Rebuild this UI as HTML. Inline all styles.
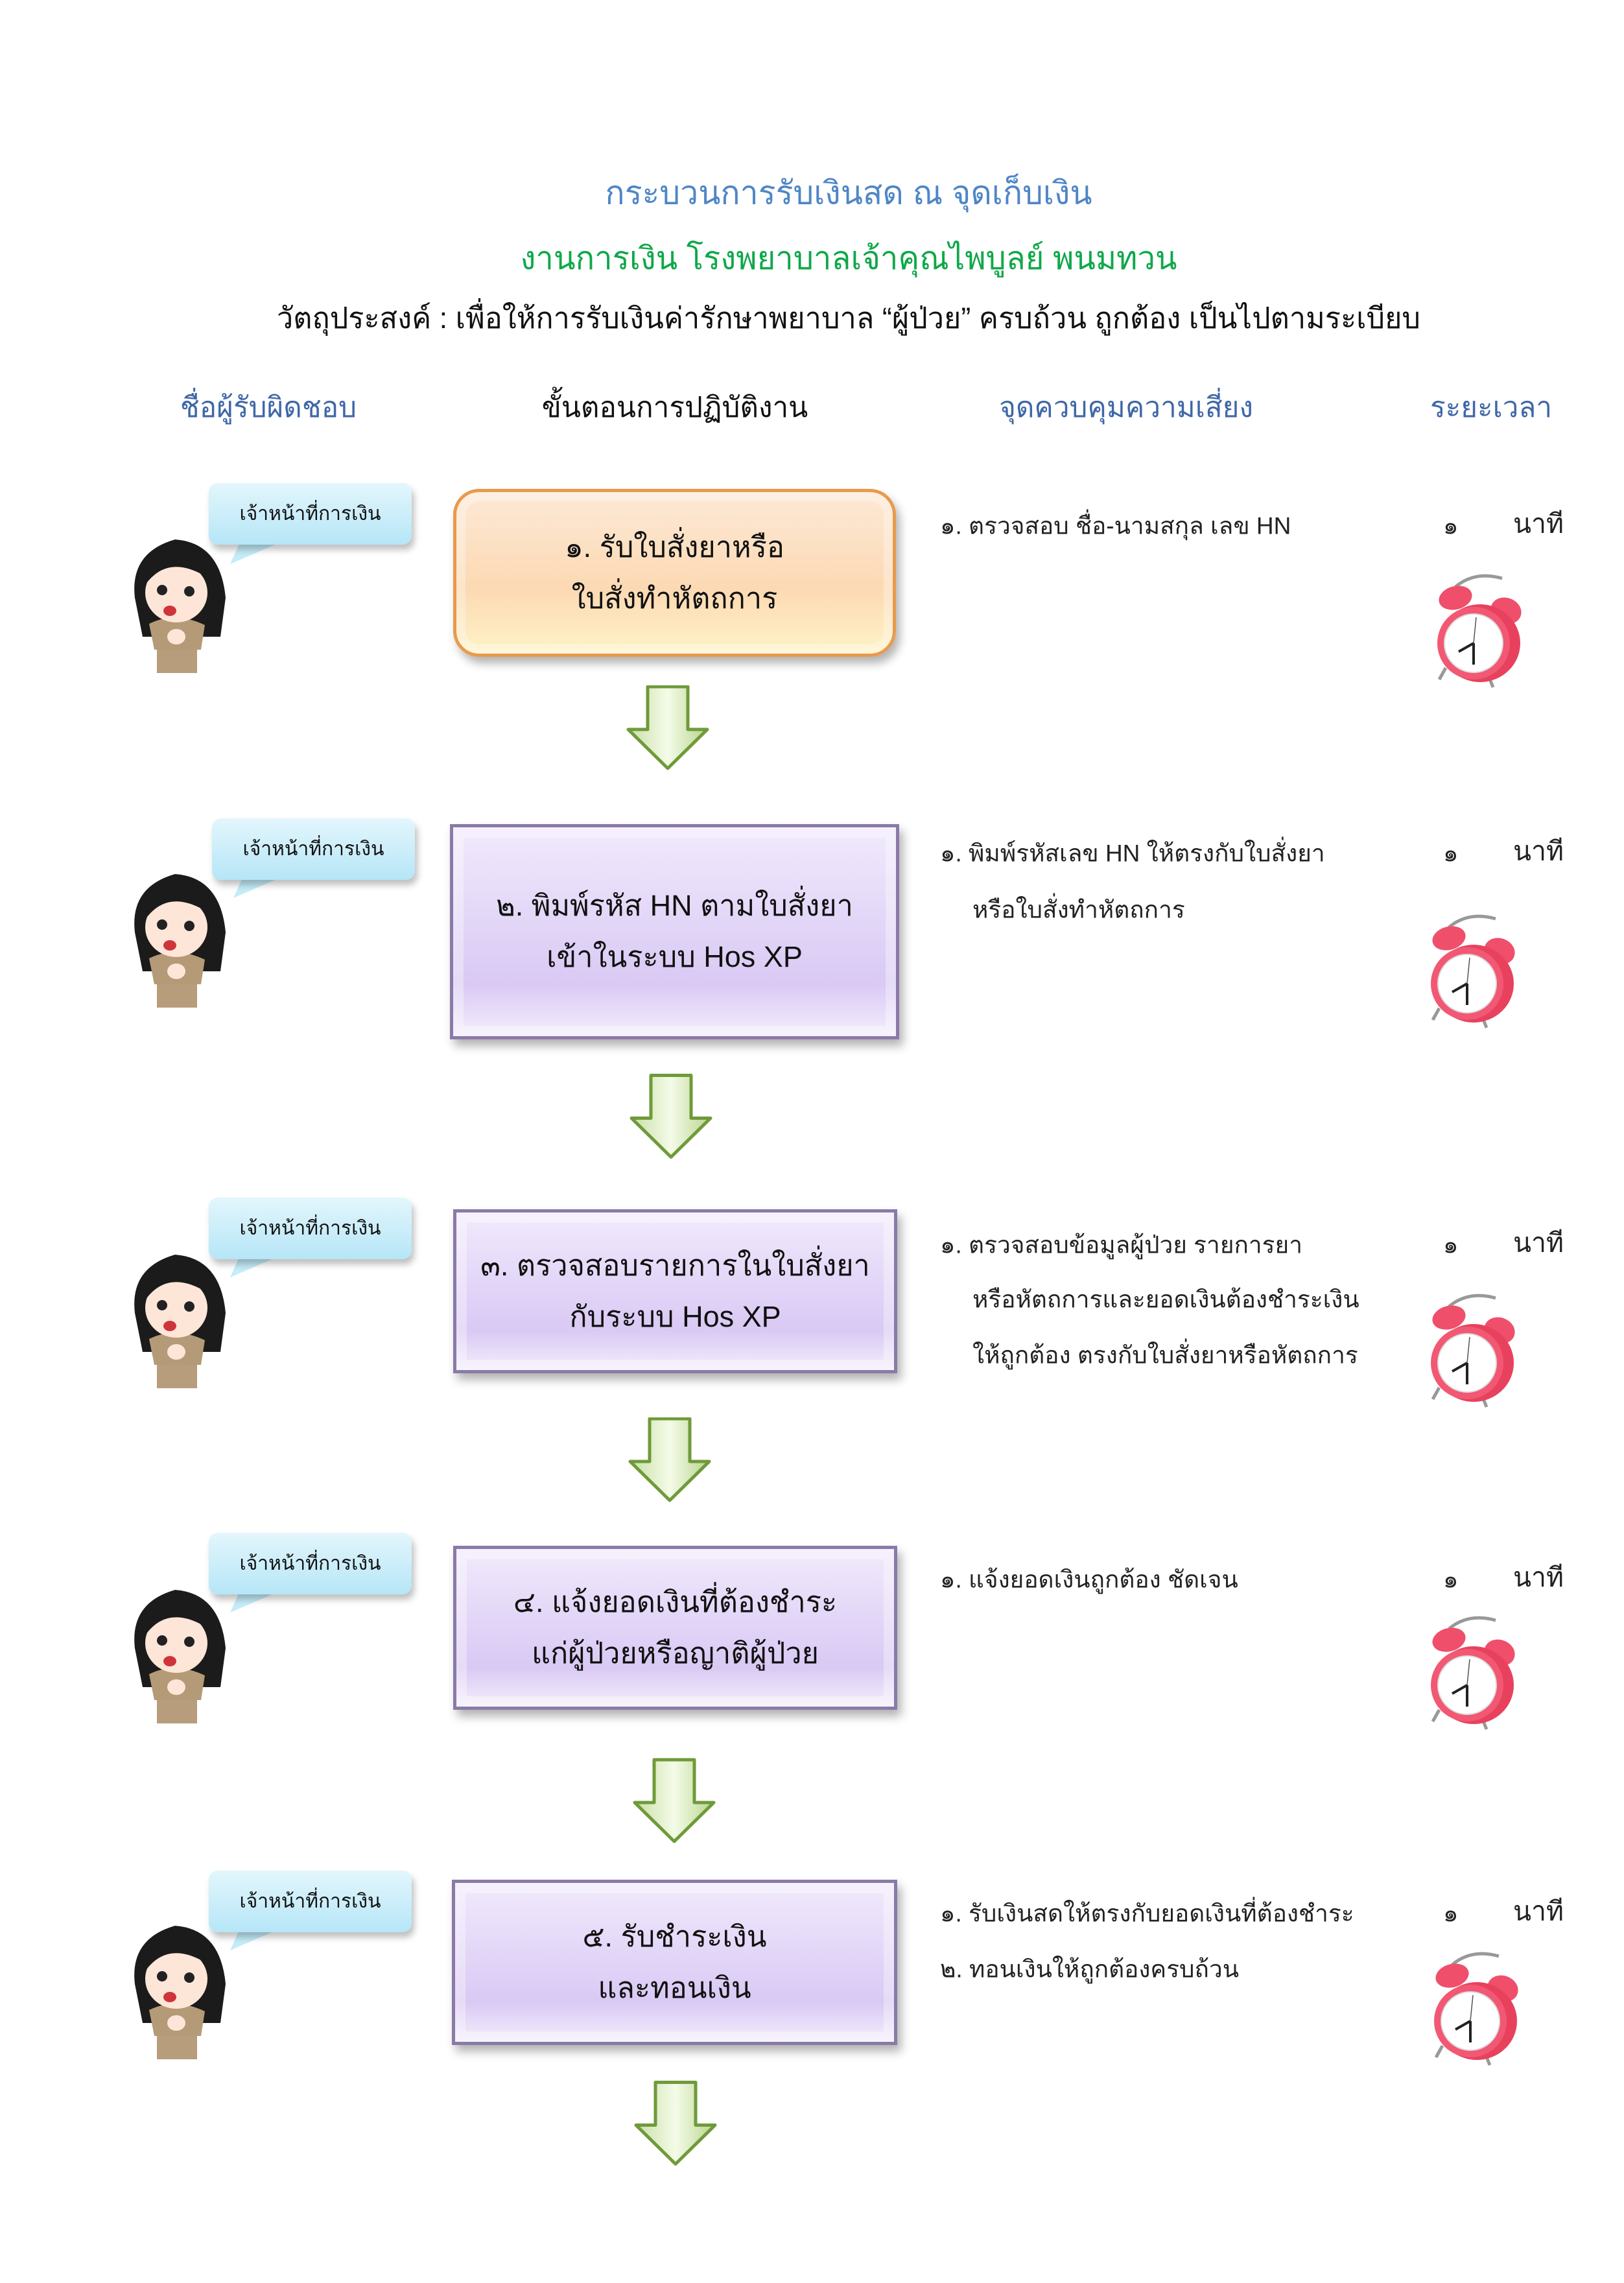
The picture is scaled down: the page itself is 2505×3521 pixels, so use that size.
<!DOCTYPE html>
<html><head><meta charset="utf-8">
<style>
html,body{margin:0;padding:0;background:#fff}
body{width:2505px;height:3521px;position:relative;overflow:hidden;font-family:"Liberation Sans","Noto Sans CJK SC",sans-serif}
.t{position:absolute;white-space:nowrap;transform:translate(-50%,-50%)}
.l{position:absolute;white-space:nowrap;transform:translateY(-50%);font-size:37px;color:#222}
.box{position:absolute;box-sizing:border-box;display:flex;flex-direction:column;align-items:center;justify-content:center;font-size:45px;color:#111;line-height:1.75}
.p{background:linear-gradient(#f1eafc,#d9c9f4 75%,#f3eefc);border:5px solid #8a7aa8;box-shadow:inset 0 0 0 16px rgba(255,255,255,.35),6px 10px 14px rgba(0,0,0,.3)}
.bub{position:absolute;width:313px;height:95px;border-radius:14px;background:linear-gradient(#e3f6fc,#b6e6f7);box-shadow:4px 8px 10px rgba(0,0,0,.25);font-size:30px;display:flex;align-items:center;justify-content:center;color:#111}
svg.abs{position:absolute}
</style></head><body>
<svg width="0" height="0" style="position:absolute">
<defs>
<linearGradient id="ag" x1="0" x2="1"><stop offset="0" stop-color="#c9dfa6"/><stop offset=".5" stop-color="#f4fbe8"/><stop offset="1" stop-color="#b8d58c"/></linearGradient>
<symbol id="arrow" viewBox="0 0 130 132"><path d="M34 2H96V68H126L65 128L4 68H34Z" fill="url(#ag)" stroke="#6f9a3a" stroke-width="5" stroke-linejoin="round"/></symbol>
<symbol id="clock" viewBox="0 0 150 185">
<path d="M40 25 Q70 0 112 12" fill="none" stroke="#999" stroke-width="5"/>
<ellipse cx="40" cy="42" rx="26" ry="18" fill="#ef4f6b" transform="rotate(-15 40 42)"/>
<ellipse cx="118" cy="62" rx="24" ry="20" fill="#ef4f6b" transform="rotate(20 118 62)"/>
<line x1="25" y1="150" x2="15" y2="168" stroke="#999" stroke-width="5"/>
<line x1="90" y1="160" x2="98" y2="180" stroke="#999" stroke-width="5"/>
<ellipse cx="78" cy="112" rx="62" ry="60" fill="#e8415e"/>
<circle cx="68" cy="112" r="56" fill="#f25873"/>
<circle cx="68" cy="112" r="45" fill="#fff" stroke="#ddd" stroke-width="2"/>
<line x1="68" y1="112" x2="68" y2="145" stroke="#222" stroke-width="4"/>
<line x1="68" y1="112" x2="45" y2="125" stroke="#222" stroke-width="4"/>
<line x1="68" y1="112" x2="72" y2="72" stroke="#555" stroke-width="1.5"/>
</symbol>
<symbol id="girl" viewBox="0 0 150 206">
<path d="M8 90 Q0 20 70 0 Q140 5 148 90 L140 150 L20 150Z" fill="#1b1b1b"/>
<rect x="42" y="130" width="62" height="76" fill="#b89d7c"/>
<path d="M30 130 Q70 110 116 132 L110 170 L38 170Z" fill="#b59a78"/>
<ellipse cx="72" cy="82" rx="48" ry="46" fill="#fde6d8"/>
<path d="M24 70 Q60 20 122 60 Q110 30 72 28 Q30 30 24 70Z" fill="#1b1b1b"/>
<circle cx="50" cy="78" r="8" fill="#222"/><circle cx="92" cy="80" r="8" fill="#222"/>
<ellipse cx="62" cy="110" rx="10" ry="8" fill="#d0343b"/>
<ellipse cx="72" cy="150" rx="14" ry="12" fill="#fde6d8"/>
</symbol>
</defs></svg>

<div class="t" style="left:1309px;top:298px;font-size:50px;color:#4f86c6">กระบวนการรับเงินสด ณ จุดเก็บเงิน</div>
<div class="t" style="left:1309px;top:398px;font-size:49px;color:#0fa84a">งานการเงิน โรงพยาบาลเจ้าคุณไพบูลย์ พนมทวน</div>
<div class="t" style="left:1309px;top:490px;font-size:45px;color:#111">วัตถุประสงค์ : เพื่อให้การรับเงินค่ารักษาพยาบาล “ผู้ป่วย” ครบถ้วน ถูกต้อง เป็นไปตามระเบียบ</div>

<div class="t" style="left:414px;top:628px;font-size:44px;color:#3f67a8">ชื่อผู้รับผิดชอบ</div>
<div class="t" style="left:1041px;top:628px;font-size:44px;color:#111">ขั้นตอนการปฏิบัติงาน</div>
<div class="t" style="left:1737px;top:628px;font-size:44px;color:#3f67a8">จุดควบคุมความเสี่ยง</div>
<div class="t" style="left:2300px;top:628px;font-size:44px;color:#3f67a8">ระยะเวลา</div>

<div class="box" style="left:699px;top:754px;width:683px;height:259px;border-radius:40px;background:linear-gradient(#fde9d6,#fcd9b3 60%,#fff3c8);border:5px solid #e89a4c;box-shadow:inset 0 0 0 14px rgba(255,255,255,.3),6px 10px 14px rgba(0,0,0,.3)"><div>๑. รับใบสั่งยาหรือ</div><div>ใบสั่งทำหัตถการ</div></div>
<div class="box p" style="left:694px;top:1271px;width:693px;height:332px"><div>๒. พิมพ์รหัส HN ตามใบสั่งยา</div><div>เข้าในระบบ Hos XP</div></div>
<div class="box p" style="left:699px;top:1865px;width:685px;height:253px"><div>๓. ตรวจสอบรายการในใบสั่งยา</div><div>กับระบบ Hos XP</div></div>
<div class="box p" style="left:699px;top:2384px;width:685px;height:253px"><div>๔. แจ้งยอดเงินที่ต้องชำระ</div><div>แก่ผู้ป่วยหรือญาติผู้ป่วย</div></div>
<div class="box p" style="left:697px;top:2899px;width:687px;height:255px"><div>๕. รับชำระเงิน</div><div>และทอนเงิน</div></div>

<svg class="abs" style="left:965px;top:1057px" width="130" height="132"><use href="#arrow"/></svg>
<svg class="abs" style="left:970px;top:1655px" width="130" height="135"><use href="#arrow"/></svg>
<svg class="abs" style="left:968px;top:2186px" width="130" height="132"><use href="#arrow"/></svg>
<svg class="abs" style="left:975px;top:2705px" width="130" height="146"><use href="#arrow"/></svg>
<svg class="abs" style="left:977px;top:3204px" width="130" height="143"><use href="#arrow"/></svg>

<svg class="abs" style="left:340px;top:830px" width="120" height="45"><path d="M33 0 L15 40 L107 0Z" fill="#c4ecf9"/></svg>
<div class="bub" style="left:322px;top:745px">เจ้าหน้าที่การเงิน</div>
<svg class="abs" style="left:200px;top:832px" width="150" height="206"><use href="#girl"/></svg>

<svg class="abs" style="left:345px;top:1345px" width="120" height="45"><path d="M33 0 L15 40 L107 0Z" fill="#c4ecf9"/></svg>
<div class="bub" style="left:327px;top:1262px">เจ้าหน้าที่การเงิน</div>
<svg class="abs" style="left:200px;top:1348px" width="150" height="206"><use href="#girl"/></svg>

<svg class="abs" style="left:340px;top:1930px" width="120" height="45"><path d="M33 0 L15 40 L107 0Z" fill="#c4ecf9"/></svg>
<div class="bub" style="left:322px;top:1847px">เจ้าหน้าที่การเงิน</div>
<svg class="abs" style="left:200px;top:1935px" width="150" height="206"><use href="#girl"/></svg>

<svg class="abs" style="left:340px;top:2447px" width="120" height="45"><path d="M33 0 L15 40 L107 0Z" fill="#c4ecf9"/></svg>
<div class="bub" style="left:322px;top:2364px">เจ้าหน้าที่การเงิน</div>
<svg class="abs" style="left:200px;top:2452px" width="150" height="206"><use href="#girl"/></svg>

<svg class="abs" style="left:340px;top:2968px" width="120" height="45"><path d="M33 0 L15 40 L107 0Z" fill="#c4ecf9"/></svg>
<div class="bub" style="left:322px;top:2885px">เจ้าหน้าที่การเงิน</div>
<svg class="abs" style="left:200px;top:2970px" width="150" height="206"><use href="#girl"/></svg>

<div class="l" style="left:1450px;top:811px">๑. ตรวจสอบ ชื่อ-นามสกุล เลข HN</div>
<div class="l" style="left:1450px;top:1316px">๑. พิมพ์รหัสเลข HN ให้ตรงกับใบสั่งยา</div>
<div class="l" style="left:1500px;top:1403px">หรือใบสั่งทำหัตถการ</div>
<div class="l" style="left:1450px;top:1920px">๑. ตรวจสอบข้อมูลผู้ป่วย รายการยา</div>
<div class="l" style="left:1500px;top:2004px">หรือหัตถการและยอดเงินต้องชำระเงิน</div>
<div class="l" style="left:1500px;top:2090px">ให้ถูกต้อง ตรงกับใบสั่งยาหรือหัตถการ</div>
<div class="l" style="left:1450px;top:2436px">๑. แจ้งยอดเงินถูกต้อง ชัดเจน</div>
<div class="l" style="left:1450px;top:2951px">๑. รับเงินสดให้ตรงกับยอดเงินที่ต้องชำระ</div>
<div class="l" style="left:1450px;top:3037px">๒. ทอนเงินให้ถูกต้องครบถ้วน</div>

<div class="l" style="left:2226px;top:811px">๑</div><div class="l" style="left:2334px;top:808px;font-size:41px">นาที</div>
<div class="l" style="left:2226px;top:1316px">๑</div><div class="l" style="left:2334px;top:1313px;font-size:41px">นาที</div>
<div class="l" style="left:2226px;top:1920px">๑</div><div class="l" style="left:2334px;top:1917px;font-size:41px">นาที</div>
<div class="l" style="left:2226px;top:2436px">๑</div><div class="l" style="left:2334px;top:2433px;font-size:41px">นาที</div>
<div class="l" style="left:2226px;top:2951px">๑</div><div class="l" style="left:2334px;top:2948px;font-size:41px">นาที</div>

<svg class="abs" style="left:2205px;top:880px" width="150" height="185"><use href="#clock"/></svg>
<svg class="abs" style="left:2195px;top:1405px" width="150" height="185"><use href="#clock"/></svg>
<svg class="abs" style="left:2195px;top:1990px" width="150" height="185"><use href="#clock"/></svg>
<svg class="abs" style="left:2195px;top:2487px" width="150" height="185"><use href="#clock"/></svg>
<svg class="abs" style="left:2200px;top:3005px" width="150" height="185"><use href="#clock"/></svg>
</body></html>
